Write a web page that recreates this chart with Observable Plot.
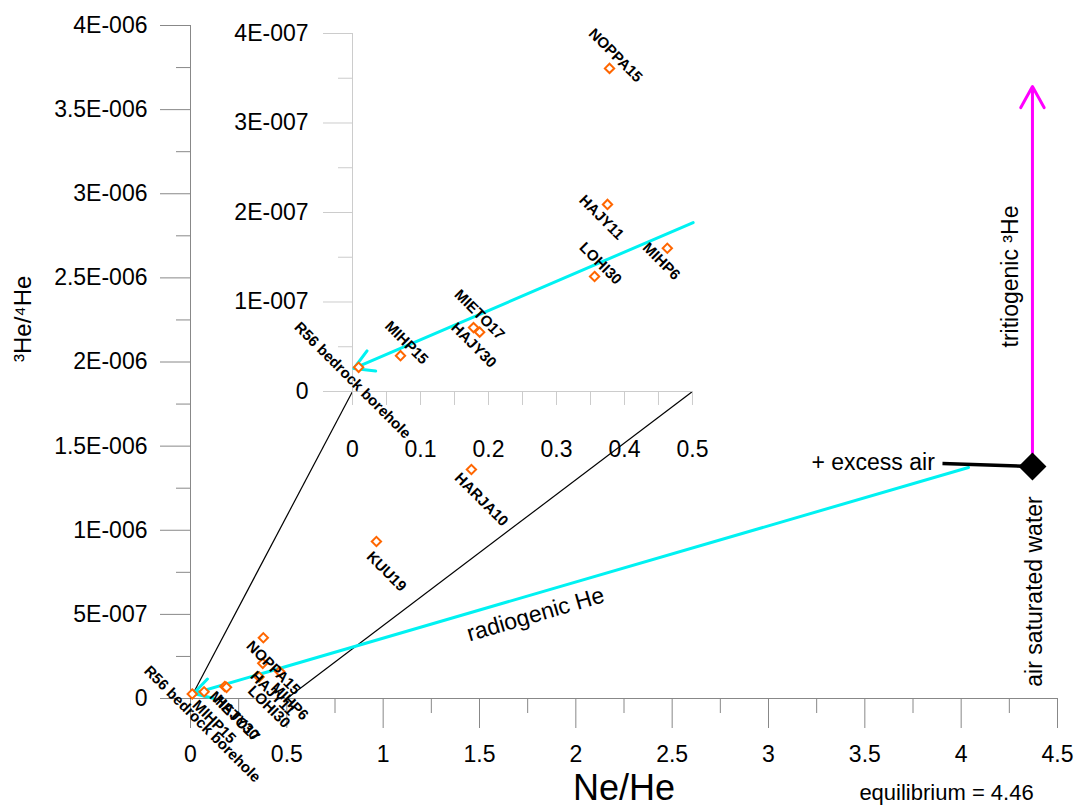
<!DOCTYPE html>
<html>
<head>
<meta charset="utf-8">
<script src="https://cdn.jsdelivr.net/npm/d3@7"></script>
<script src="https://cdn.jsdelivr.net/npm/@observablehq/plot@0.6"></script>
<style>
  body { margin: 0; background: #fff; }
  #wrap { position: relative; width: 1075px; height: 808px; overflow: hidden; background: #fff; }
  #wrap svg { position: absolute; left: 0; top: 0; }
</style>
</head>
<body>
<div id="wrap"></div>
<script>
// ---- sample data (Ne/He vs 3He/4He) ----
const samples = ["NOPPA15", "HAJY11", "MIHP6", "LOHI30", "MIETO17", "HAJY30", "MIHP15", "R56 bedrock borehole", "HARJA10", "KUU19"];
const neHe    = [0.378, 0.375, 0.463, 0.356, 0.178, 0.187, 0.0706, 0.009, 1.458, 0.965];
const he3he4  = [3.61e-7, 2.09e-7, 1.60e-7, 1.285e-7, 0.714e-7, 0.663e-7, 0.40e-7, 0.27e-7, 1.361e-6, 0.933e-6];
const insetLabelSide = ["above", "below", "below", "above", "above", "below", "above", "below", null, null];

// end members / mixing lines
const aswNe = 4.37, aswHe = 1.379e-6;               // air saturated water
const tritiumTopHe = 3.637e-6;                       // tritiogenic 3He arrow tip
const excessAirNe = 3.903, excessAirHe = 1.397e-6;   // excess air line end
const radioStartNe = 4.038, radioStartHe = 1.373e-6; // radiogenic He line start
const radioEndNe = 0.016, radioEndHe = 3.0e-8;       // radiogenic He arrow tip
const insetRadioStartNe = 0.501, insetRadioStartHe = 1.888e-7;
const insetRadioEndNe = 0.002, insetRadioEndHe = 2.57e-8;

// inset frame in main data coordinates
const insetBoxNe = [0.8408, 2.6055];
const insetBoxHe = [1.8247e-6, 3.9525e-6];

// ticks
const xMajor = [0, 0.5, 1, 1.5, 2, 2.5, 3, 3.5, 4, 4.5];
const xLabels = ["0", "0.5", "1", "1.5", "2", "2.5", "3", "3.5", "4", "4.5"];
const xMinor = [0.25, 0.75, 1.25, 1.75, 2.25, 2.75, 3.25, 3.75, 4.25];
const yMajor = [0, 5e-7, 1e-6, 1.5e-6, 2e-6, 2.5e-6, 3e-6, 3.5e-6, 4e-6];
const yLabels = ["0", "5E-007", "1E-006", "1.5E-006", "2E-006", "2.5E-006", "3E-006", "3.5E-006", "4E-006"];
const yMinor = [2.5e-7, 7.5e-7, 1.25e-6, 1.75e-6, 2.25e-6, 2.75e-6, 3.25e-6, 3.75e-6];
const ixMajor = [0, 0.1, 0.2, 0.3, 0.4, 0.5];
const ixLabels = ["0", "0.1", "0.2", "0.3", "0.4", "0.5"];
const ixMinor = [0.05, 0.15, 0.25, 0.35, 0.45];
const iyMajor = [0, 1e-7, 2e-7, 3e-7, 4e-7];
const iyLabels = ["0", "1E-007", "2E-007", "3E-007", "4E-007"];
const iyMinor = [0.5e-7, 1.5e-7, 2.5e-7, 3.5e-7];

// text annotations
const notes = [
  {text: "radiogenic He", x: 1.791, y: 0.4993e-6},
  {text: "+ excess air", x: 3.543, y: 1.4027e-6},
  {text: "tritiogenic \u00B3He", x: 4.256, y: 2.508e-6},
  {text: "air saturated water", x: 4.38, y: 0.636e-6},
  {text: "equilibrium = 4.46", x: 3.924, y: -0.5587e-6}
];
const xTitle = "Ne/He";
const yTitle = "\u00B3He/\u2074He";

// ---- styles ----
const FONT = "'Liberation Sans', Arial, Helvetica, sans-serif";
const AXIS = "#888888";
const INSET_AXIS = "#cccccc";
const ORANGE = "#ff6600";
const CYAN = "#00f2f2";
const MAGENTA = "#ff00ff";

const pts = samples.map((s, i) => ({name: s, x: neHe[i], y: he3he4[i], side: insetLabelSide[i]}));
const fmt = (ticks, labels) => d => labels[ticks.indexOf(d)];

const main = Plot.plot({
  width: 1075, height: 808,
  marginLeft: 190, marginRight: 18, marginTop: 25, marginBottom: 110,
  x: {domain: [0, 4.5]},
  y: {domain: [0, 4e-6]},
  style: {fontFamily: FONT, fontSize: "23px", color: "#000", background: "transparent", overflow: "visible"},
  marks: [
    Plot.ruleX([0], {y1: 0, y2: 4e-6, stroke: AXIS}),
    Plot.ruleY([0], {x1: 0, x2: 4.5, stroke: AXIS}),
    Plot.axisX({ticks: xMajor, tickSize: 30, tickPadding: 17, tickFormat: fmt(xMajor, xLabels), stroke: AXIS, fill: "#000", label: null}),
    Plot.axisX({ticks: xMinor, tickSize: 15, stroke: AXIS, fill: "none", label: null}),
    Plot.axisY({ticks: yMajor, tickSize: 30, tickPadding: 13, tickFormat: fmt(yMajor, yLabels), stroke: AXIS, fill: "#000", label: null}),
    Plot.axisY({ticks: yMinor, tickSize: 14, stroke: AXIS, fill: "none", label: null}),
    Plot.text([xTitle], {text: d => d, frameAnchor: "bottom", dy: 101, fontSize: 36}),
    Plot.text([yTitle], {text: d => d, frameAnchor: "left", dx: -167, rotate: -90, fontSize: 24}),
    // connectors to the inset
    Plot.link([
      {x1: 0, y1: 0, x2: insetBoxNe[0], y2: insetBoxHe[0]},
      {x1: 0.5, y1: 0, x2: insetBoxNe[1], y2: insetBoxHe[0]}
    ], {x1: "x1", y1: "y1", x2: "x2", y2: "y2", stroke: "#000", strokeWidth: 1.2}),
    // radiogenic He mixing line
    Plot.arrow([{x1: radioStartNe, y1: radioStartHe, x2: radioEndNe, y2: radioEndHe}],
      {x1: "x1", y1: "y1", x2: "x2", y2: "y2", stroke: CYAN, strokeWidth: 3, headLength: 10, headAngle: 60}),
    // excess air
    Plot.link([{x1: aswNe, y1: aswHe, x2: excessAirNe, y2: excessAirHe}],
      {x1: "x1", y1: "y1", x2: "x2", y2: "y2", stroke: "#000", strokeWidth: 3.5}),
    // tritiogenic 3He
    Plot.arrow([{x1: aswNe, y1: aswHe, x2: aswNe, y2: tritiumTopHe}],
      {x1: "x1", y1: "y1", x2: "x2", y2: "y2", stroke: MAGENTA, strokeWidth: 3, headLength: 12, headAngle: 58}),
    Plot.dot([{x: aswNe, y: aswHe}], {x: "x", y: "y", symbol: "diamond2", r: 12.6, fill: "#000"}),
    // samples
    Plot.dot(pts, {x: "x", y: "y", symbol: "diamond2", r: 4.2, stroke: ORANGE, strokeWidth: 2, fill: "white"}),
    Plot.text(pts, {x: "x", y: "y", text: "name", rotate: 45, dx: 10, dy: 30, fontWeight: "bold", fontSize: 15}),
    // annotations
    Plot.text([notes[0]], {x: "x", y: "y", text: "text", rotate: -16.3}),
    Plot.text([notes[1]], {x: "x", y: "y", text: "text"}),
    Plot.text([notes[2]], {x: "x", y: "y", text: "text", rotate: -90}),
    Plot.text([notes[3]], {x: "x", y: "y", text: "text", rotate: -90}),
    Plot.text([notes[4]], {x: "x", y: "y", text: "text", fontSize: 22})
  ]
});

const wrap = document.getElementById("wrap");
wrap.appendChild(main);

// ---- inset ----
const sx = main.scale("x"), sy = main.scale("y");
const L = sx.apply(insetBoxNe[0]), R = sx.apply(insetBoxNe[1]);
const T = sy.apply(insetBoxHe[1]), B = sy.apply(insetBoxHe[0]);
const iml = 140, imr = 20, imt = 20, imb = 90;
const insetPts = pts.filter(d => d.side);

const inset = Plot.plot({
  width: (R - L) + iml + imr, height: (B - T) + imt + imb,
  marginLeft: iml, marginRight: imr, marginTop: imt, marginBottom: imb,
  x: {domain: [0, 0.5]},
  y: {domain: [0, 4e-7]},
  style: {fontFamily: FONT, fontSize: "23px", color: "#000", background: "transparent", overflow: "visible"},
  marks: [
    Plot.ruleX([0], {y1: 0, y2: 4e-7, stroke: INSET_AXIS}),
    Plot.ruleY([0], {x1: 0, x2: 0.5, stroke: INSET_AXIS}),
    Plot.axisX({ticks: ixMajor, tickSize: 14, tickPadding: 35, tickFormat: fmt(ixMajor, ixLabels), stroke: INSET_AXIS, fill: "#000", label: null}),
    Plot.axisX({ticks: ixMinor, tickSize: 14, stroke: INSET_AXIS, fill: "none", label: null}),
    Plot.axisY({ticks: iyMajor, tickSize: 29, tickPadding: 15, tickFormat: fmt(iyMajor, iyLabels), stroke: INSET_AXIS, fill: "#000", label: null}),
    Plot.axisY({ticks: iyMinor, tickSize: 14, stroke: INSET_AXIS, fill: "none", label: null}),
    Plot.arrow([{x1: insetRadioStartNe, y1: insetRadioStartHe, x2: insetRadioEndNe, y2: insetRadioEndHe}],
      {x1: "x1", y1: "y1", x2: "x2", y2: "y2", stroke: CYAN, strokeWidth: 3, headLength: 11, headAngle: 60}),
    Plot.dot(insetPts, {x: "x", y: "y", symbol: "diamond2", r: 4.2, stroke: ORANGE, strokeWidth: 2, fill: "white"}),
    Plot.text(insetPts.filter(d => d.side === "above"), {x: "x", y: "y", text: "name", rotate: 45, dx: 6, dy: -13, fontWeight: "bold", fontSize: 15}),
    Plot.text(insetPts.filter(d => d.side === "below"), {x: "x", y: "y", text: "name", rotate: 45, dx: -6, dy: 13, fontWeight: "bold", fontSize: 15})
  ]
});
inset.style.left = (L - iml) + "px";
inset.style.top = (T - imt) + "px";
wrap.appendChild(inset);
</script>
</body>
</html>
